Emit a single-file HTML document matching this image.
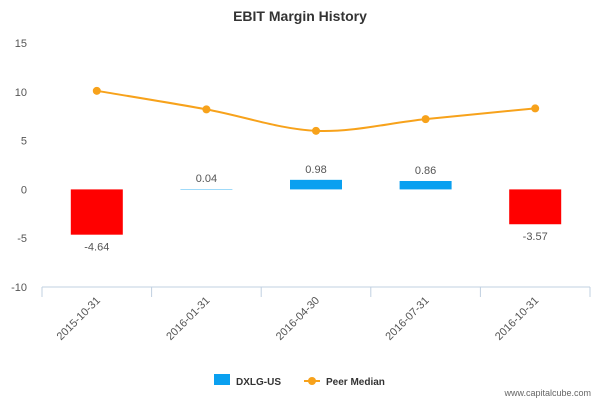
<!DOCTYPE html>
<html><head><meta charset="utf-8"><style>
body{margin:0;background:#fff;font-family:"Liberation Sans","DejaVu Sans",sans-serif;}
svg{display:block}
</style></head><body>
<svg id="chart" width="600" height="400">
<text x="300" y="21" text-anchor="middle" font-size="14" font-weight="bold" fill="#333">EBIT Margin History</text>
<g id="yaxis"></g>
<g id="xaxis"></g>
<g id="bars"></g>
<g id="line"></g>
<g>
<rect x="214" y="374" width="16" height="11" fill="#0aa0f0"/>
<text x="236" y="385" font-size="10" font-weight="bold" fill="#333">DXLG-US</text>
<line x1="304" y1="381" x2="320" y2="381" stroke="#f7a21b" stroke-width="2"/>
<circle cx="312" cy="381" r="4" fill="#f7a21b"/>
<text x="326" y="385" font-size="10" font-weight="bold" fill="#333">Peer Median</text>
</g>
<text x="591" y="396" text-anchor="end" font-size="9" fill="#666">www.capitalcube.com</text>
</svg>
<script>
const categories=["2015-10-31","2016-01-31","2016-04-30","2016-07-31","2016-10-31"];
const barValues=[-4.64,0.04,0.98,0.86,-3.57];
const peerMedian=[10.1,8.2,6.0,7.2,8.3];
const yTicks=[15,10,5,0,-5,-10];
const NS="http://www.w3.org/2000/svg";
const left=42,right=590,top0=43,bot0=287,ymin=-10,ymax=15;
const band=(right-left)/categories.length;
function x(i){return left+band*(i+0.5);}
function y(v){return bot0-(v-ymin)/(ymax-ymin)*(bot0-top0);}
function mk(tag,attrs,parent){const e=document.createElementNS(NS,tag);for(const k in attrs)e.setAttribute(k,attrs[k]);parent.appendChild(e);return e;}
const ya=document.getElementById('yaxis');
yTicks.forEach(t=>{
 const el=mk('text',{x:27,y:y(t)+4,'text-anchor':'end','font-size':11,fill:'#555'},ya);
 el.textContent=t;
 
 
});
const xa=document.getElementById('xaxis');
const ax=mk('line',{x1:left,y1:bot0,x2:right,y2:bot0,stroke:'#c0d0e0'},xa);


for(let i=0;i<=categories.length;i++){
 const tk=mk('line',{x1:left+band*i,y1:bot0,x2:left+band*i,y2:bot0+10,stroke:'#c0d0e0'},xa);
 
 
}
categories.forEach((c,i)=>{
 const el=mk('text',{x:x(i)+4,y:bot0+14,'text-anchor':'end','font-size':11,fill:'#555',transform:`rotate(-45 ${x(i)+4} ${bot0+14})`},xa);
 el.textContent=c;
 
 
});
const bg=document.getElementById('bars');
barValues.forEach((v,i)=>{
 const y0=y(0),y1=y(v);
 const r=mk('rect',{x:x(i)-26,y:Math.min(y0,y1),width:52,height:Math.abs(y1-y0),fill:v<0?'#ff0000':'#0aa0f0'},bg);
 
 
 const ly=v<0?y1+16:y1-7;
 const t=mk('text',{x:x(i),y:ly,'text-anchor':'middle','font-size':11,fill:'#555'},bg);
 t.textContent=v.toFixed(2);
 
 
});
const lg=document.getElementById('line');
const pts=peerMedian.map((v,i)=>[x(i),y(v)]);
let d=`M${pts[0][0]},${pts[0][1]}`;
for(let i=0;i<pts.length-1;i++){
 const p0=pts[Math.max(0,i-1)],p1=pts[i],p2=pts[i+1],p3=pts[Math.min(pts.length-1,i+2)];
 const c1=[p1[0]+(p2[0]-p0[0])/6,p1[1]+(p2[1]-p0[1])/6];
 const c2=[p2[0]-(p3[0]-p1[0])/6,p2[1]-(p3[1]-p1[1])/6];
 d+=` C${c1[0]},${c1[1]} ${c2[0]},${c2[1]} ${p2[0]},${p2[1]}`;
}
const path=mk('path',{d:d,fill:'none',stroke:'#f7a21b','stroke-width':2},lg);


pts.forEach((p,i)=>{
 const c=mk('circle',{cx:p[0],cy:p[1],r:4,fill:'#f7a21b'},lg);
 
 
});
</script>
</body></html>
